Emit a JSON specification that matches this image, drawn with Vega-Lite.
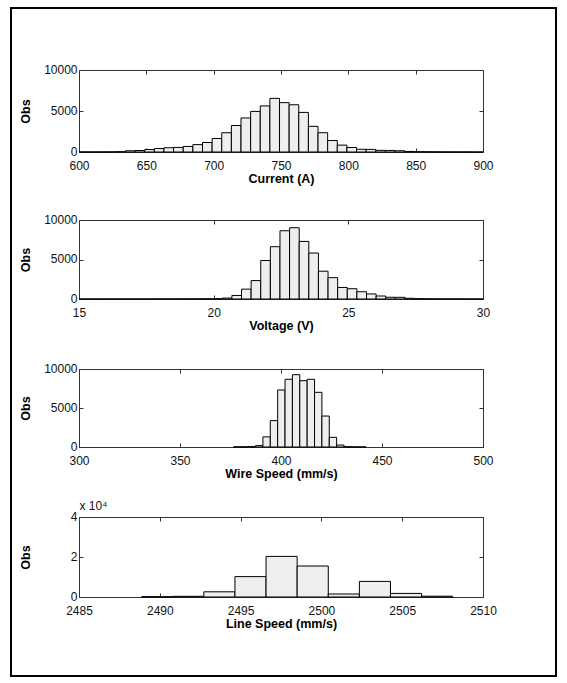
{
  "$schema": "https://vega.github.io/schema/vega-lite/v6.json",
  "width": 545,
  "height": 668,
  "padding": {"left": 11, "top": 8, "right": 11, "bottom": 7},
  "autosize": {"type": "none"},
  "background": "#ffffff",
  "datasets": {
    "current": [
      {"lo":600,"hi":605.9,"obs":10},{"lo":605.9,"hi":613.05,"obs":10},{"lo":613.05,"hi":620.2,"obs":15},{"lo":620.2,"hi":627.35,"obs":20},{"lo":627.35,"hi":634.5,"obs":40},
      {"lo":634.5,"hi":641.65,"obs":150},{"lo":641.65,"hi":648.8,"obs":180},{"lo":648.8,"hi":655.95,"obs":300},{"lo":655.95,"hi":663.1,"obs":420},{"lo":663.1,"hi":670.25,"obs":520},
      {"lo":670.25,"hi":677.4,"obs":560},{"lo":677.4,"hi":684.55,"obs":680},{"lo":684.55,"hi":691.7,"obs":900},{"lo":691.7,"hi":698.85,"obs":1160},{"lo":698.85,"hi":706,"obs":1650},
      {"lo":706,"hi":713.15,"obs":2350},{"lo":713.15,"hi":720.3,"obs":3230},{"lo":720.3,"hi":727.45,"obs":4150},{"lo":727.45,"hi":734.6,"obs":4950},{"lo":734.6,"hi":741.75,"obs":5620},
      {"lo":741.75,"hi":748.9,"obs":6540},{"lo":748.9,"hi":756.05,"obs":6020},{"lo":756.05,"hi":763.2,"obs":5760},{"lo":763.2,"hi":770.35,"obs":4830},{"lo":770.35,"hi":777.5,"obs":3130},
      {"lo":777.5,"hi":784.65,"obs":2350},{"lo":784.65,"hi":791.8,"obs":1400},{"lo":791.8,"hi":798.95,"obs":840},{"lo":798.95,"hi":806.1,"obs":550},{"lo":806.1,"hi":813.25,"obs":330},
      {"lo":813.25,"hi":820.4,"obs":320},{"lo":820.4,"hi":827.55,"obs":200},{"lo":827.55,"hi":834.7,"obs":190},{"lo":834.7,"hi":841.85,"obs":150},{"lo":841.85,"hi":849,"obs":70},
      {"lo":849,"hi":856.15,"obs":40},{"lo":856.15,"hi":863.3,"obs":30},{"lo":863.3,"hi":870.45,"obs":20},{"lo":870.45,"hi":877.6,"obs":15},{"lo":877.6,"hi":884.75,"obs":10},
      {"lo":884.75,"hi":891.9,"obs":10},{"lo":891.9,"hi":899.05,"obs":5},{"lo":899.05,"hi":900,"obs":5}
    ],
    "voltage": [
      {"lo":15,"hi":15.322,"obs":3},{"lo":15.322,"hi":15.679,"obs":3},{"lo":15.679,"hi":16.036,"obs":3},{"lo":16.036,"hi":16.393,"obs":4},{"lo":16.393,"hi":16.75,"obs":4},
      {"lo":16.75,"hi":17.107,"obs":5},{"lo":17.107,"hi":17.464,"obs":5},{"lo":17.464,"hi":17.821,"obs":6},{"lo":17.821,"hi":18.178,"obs":8},{"lo":18.178,"hi":18.535,"obs":10},
      {"lo":18.535,"hi":18.892,"obs":12},{"lo":18.892,"hi":19.249,"obs":15},{"lo":19.249,"hi":19.606,"obs":20},{"lo":19.606,"hi":19.963,"obs":25},{"lo":19.963,"hi":20.32,"obs":40},
      {"lo":20.32,"hi":20.677,"obs":120},{"lo":20.677,"hi":21.034,"obs":450},{"lo":21.034,"hi":21.391,"obs":1250},{"lo":21.391,"hi":21.748,"obs":2330},{"lo":21.748,"hi":22.105,"obs":4870},
      {"lo":22.105,"hi":22.462,"obs":6620},{"lo":22.462,"hi":22.819,"obs":8640},{"lo":22.819,"hi":23.176,"obs":9020},{"lo":23.176,"hi":23.533,"obs":7290},{"lo":23.533,"hi":23.89,"obs":5820},
      {"lo":23.89,"hi":24.247,"obs":3520},{"lo":24.247,"hi":24.604,"obs":2700},{"lo":24.604,"hi":24.961,"obs":1460},{"lo":24.961,"hi":25.318,"obs":1300},{"lo":25.318,"hi":25.675,"obs":920},
      {"lo":25.675,"hi":26.032,"obs":640},{"lo":26.032,"hi":26.389,"obs":380},{"lo":26.389,"hi":26.746,"obs":220},{"lo":26.746,"hi":27.103,"obs":210},{"lo":27.103,"hi":27.46,"obs":90},
      {"lo":27.46,"hi":27.817,"obs":40},{"lo":27.817,"hi":28.174,"obs":25},{"lo":28.174,"hi":28.531,"obs":15},{"lo":28.531,"hi":28.888,"obs":10},{"lo":28.888,"hi":29.245,"obs":8},
      {"lo":29.245,"hi":29.602,"obs":5},{"lo":29.602,"hi":29.959,"obs":5},{"lo":29.959,"hi":30,"obs":3}
    ],
    "wire": [
      {"lo":376.45,"hi":380.1,"obs":20},{"lo":380.1,"hi":383.75,"obs":30},{"lo":383.75,"hi":387.4,"obs":60},{"lo":387.4,"hi":391.05,"obs":180},{"lo":391.05,"hi":394.7,"obs":1300},
      {"lo":394.7,"hi":398.35,"obs":3380},{"lo":398.35,"hi":402,"obs":7310},{"lo":402,"hi":405.65,"obs":8680},{"lo":405.65,"hi":409.3,"obs":9270},{"lo":409.3,"hi":412.95,"obs":8500},
      {"lo":412.95,"hi":416.6,"obs":8680},{"lo":416.6,"hi":420.25,"obs":7010},{"lo":420.25,"hi":423.9,"obs":3970},{"lo":423.9,"hi":427.55,"obs":1240},{"lo":427.55,"hi":431.2,"obs":250},
      {"lo":431.2,"hi":434.85,"obs":40},{"lo":434.85,"hi":438.5,"obs":20},{"lo":438.5,"hi":442.15,"obs":10}
    ],
    "line": [
      {"lo":2488.875,"hi":2490.8,"obs":150},{"lo":2490.8,"hi":2492.725,"obs":350},{"lo":2492.725,"hi":2494.65,"obs":2600},{"lo":2494.65,"hi":2496.575,"obs":10200},
      {"lo":2496.575,"hi":2498.5,"obs":20300},{"lo":2498.5,"hi":2500.425,"obs":15500},{"lo":2500.425,"hi":2502.35,"obs":1500},{"lo":2502.35,"hi":2504.275,"obs":7800},
      {"lo":2504.275,"hi":2506.2,"obs":1800},{"lo":2506.2,"hi":2508.125,"obs":400}
    ]
  },
  "config": {
    "view": {"stroke": "#000000", "strokeWidth": 2},
    "font": "Liberation Sans",
    "axis": {
      "grid": false,
      "domainColor": "#333333",
      "domainWidth": 1,
      "tickColor": "#333333",
      "tickSize": -4,
      "tickWidth": 1,
      "format": "d",
      "labelFont": "Liberation Sans",
      "labelFontSize": 12,
      "labelColor": "#111111",
      "labelPadding": 12,
      "labelFlush": false,
      "labelOverlap": false,
      "labelBound": false,
      "titleFont": "Liberation Sans",
      "titleFontSize": 12.5,
      "titleFontWeight": "bold",
      "titleColor": "#000000",
      "titlePadding": 1.5,
      "minExtent": 0
    },
    "axisLeft": {"labelPadding": 6, "labelOffset": -1}
  },
  "resolve": {
    "scale": {"x": "independent", "y": "independent"},
    "axis": {"x": "independent", "y": "independent"}
  },
  "layer": [
    {
      "data": {"name": "current"},
      "resolve": {"axis": {"x": "independent", "y": "independent"}},
      "layer": [
        {
          "mark": {"type": "rect", "fill": "#eeeeee", "stroke": "#000000", "strokeWidth": 1},
          "encoding": {
            "x": {"field": "lo", "type": "quantitative",
                  "scale": {"domain": [600, 900], "range": [68, 472], "nice": false, "zero": false},
                  "axis": {"orient": "bottom", "offset": -524, "values": [600,650,700,750,800,850,900], "title": "Current (A)"}},
            "x2": {"field": "hi"},
            "y": {"field": "obs", "type": "quantitative",
                  "scale": {"domain": [0, 10000], "range": [144, 62], "nice": false},
                  "axis": {"orient": "left", "offset": -68, "values": [0,5000,10000], "title": "Obs", "titleX": -54, "titleAngle": -90, "titleAlign": "center", "titleBaseline": "middle"}},
            "y2": {"datum": 0}
          }
        },
        {
          "mark": {"type": "point", "opacity": 0},
          "encoding": {
            "x": {"field": "lo", "type": "quantitative",
                  "scale": {"domain": [600, 900], "range": [68, 472], "nice": false, "zero": false},
                  "axis": {"orient": "top", "offset": -62, "values": [600,650,700,750,800,850,900], "labels": false, "title": null}},
            "y": {"field": "obs", "type": "quantitative",
                  "scale": {"domain": [0, 10000], "range": [144, 62], "nice": false},
                  "axis": {"orient": "right", "offset": -73, "values": [0,5000,10000], "labels": false, "title": null}}
          }
        }
      ]
    },
    {
      "data": {"name": "voltage"},
      "resolve": {"axis": {"x": "independent", "y": "independent"}},
      "layer": [
        {
          "mark": {"type": "rect", "fill": "#eeeeee", "stroke": "#000000", "strokeWidth": 1},
          "encoding": {
            "x": {"field": "lo", "type": "quantitative",
                  "scale": {"domain": [15, 30], "range": [68, 472], "nice": false, "zero": false},
                  "axis": {"orient": "bottom", "offset": -377, "values": [15,20,25,30], "title": "Voltage (V)"}},
            "x2": {"field": "hi"},
            "y": {"field": "obs", "type": "quantitative",
                  "scale": {"domain": [0, 10000], "range": [291, 212], "nice": false},
                  "axis": {"orient": "left", "offset": -68, "values": [0,5000,10000], "title": "Obs", "titleX": -54, "titleAngle": -90, "titleAlign": "center", "titleBaseline": "middle"}},
            "y2": {"datum": 0}
          }
        },
        {
          "mark": {"type": "point", "opacity": 0},
          "encoding": {
            "x": {"field": "lo", "type": "quantitative",
                  "scale": {"domain": [15, 30], "range": [68, 472], "nice": false, "zero": false},
                  "axis": {"orient": "top", "offset": -212, "values": [15,20,25,30], "labels": false, "title": null}},
            "y": {"field": "obs", "type": "quantitative",
                  "scale": {"domain": [0, 10000], "range": [291, 212], "nice": false},
                  "axis": {"orient": "right", "offset": -73, "values": [0,5000,10000], "labels": false, "title": null}}
          }
        }
      ]
    },
    {
      "data": {"name": "wire"},
      "resolve": {"axis": {"x": "independent", "y": "independent"}},
      "layer": [
        {
          "mark": {"type": "rect", "fill": "#eeeeee", "stroke": "#000000", "strokeWidth": 1},
          "encoding": {
            "x": {"field": "lo", "type": "quantitative",
                  "scale": {"domain": [300, 500], "range": [68, 472], "nice": false, "zero": false},
                  "axis": {"orient": "bottom", "offset": -229, "values": [300,350,400,450,500], "title": "Wire Speed (mm/s)"}},
            "x2": {"field": "hi"},
            "y": {"field": "obs", "type": "quantitative",
                  "scale": {"domain": [0, 10000], "range": [439, 361], "nice": false},
                  "axis": {"orient": "left", "offset": -68, "values": [0,5000,10000], "title": "Obs", "titleX": -54, "titleAngle": -90, "titleAlign": "center", "titleBaseline": "middle"}},
            "y2": {"datum": 0}
          }
        },
        {
          "mark": {"type": "point", "opacity": 0},
          "encoding": {
            "x": {"field": "lo", "type": "quantitative",
                  "scale": {"domain": [300, 500], "range": [68, 472], "nice": false, "zero": false},
                  "axis": {"orient": "top", "offset": -361, "values": [300,350,400,450,500], "labels": false, "title": null}},
            "y": {"field": "obs", "type": "quantitative",
                  "scale": {"domain": [0, 10000], "range": [439, 361], "nice": false},
                  "axis": {"orient": "right", "offset": -73, "values": [0,5000,10000], "labels": false, "title": null}}
          }
        }
      ]
    },
    {
      "data": {"name": "line"},
      "resolve": {"axis": {"x": "independent", "y": "independent"}},
      "layer": [
        {
          "mark": {"type": "rect", "fill": "#eeeeee", "stroke": "#000000", "strokeWidth": 1},
          "encoding": {
            "x": {"field": "lo", "type": "quantitative",
                  "scale": {"domain": [2485, 2510], "range": [68, 472], "nice": false, "zero": false},
                  "axis": {"orient": "bottom", "offset": -79, "values": [2485,2490,2495,2500,2505,2510], "title": "Line Speed (mm/s)"}},
            "x2": {"field": "hi"},
            "y": {"field": "obs", "type": "quantitative",
                  "scale": {"domain": [0, 40000], "range": [589, 509], "nice": false},
                  "axis": {"orient": "left", "offset": -68, "values": [0,20000,40000], "labelExpr": "datum.value / 10000", "title": "Obs", "titleX": -54, "titleAngle": -90, "titleAlign": "center", "titleBaseline": "middle"}},
            "y2": {"datum": 0}
          }
        },
        {
          "mark": {"type": "point", "opacity": 0},
          "encoding": {
            "x": {"field": "lo", "type": "quantitative",
                  "scale": {"domain": [2485, 2510], "range": [68, 472], "nice": false, "zero": false},
                  "axis": {"orient": "top", "offset": -509, "values": [2485,2490,2495,2500,2505,2510], "labels": false, "title": "x 10⁴", "titleAnchor": "start", "titleAlign": "left", "titleFontWeight": "normal", "titleFontSize": 12, "titleColor": "#111111", "titlePadding": 4}},
            "y": {"field": "obs", "type": "quantitative",
                  "scale": {"domain": [0, 40000], "range": [589, 509], "nice": false},
                  "axis": {"orient": "right", "offset": -73, "values": [0,20000,40000], "labels": false, "title": null}}
          }
        }
      ]
    }
  ]
}
